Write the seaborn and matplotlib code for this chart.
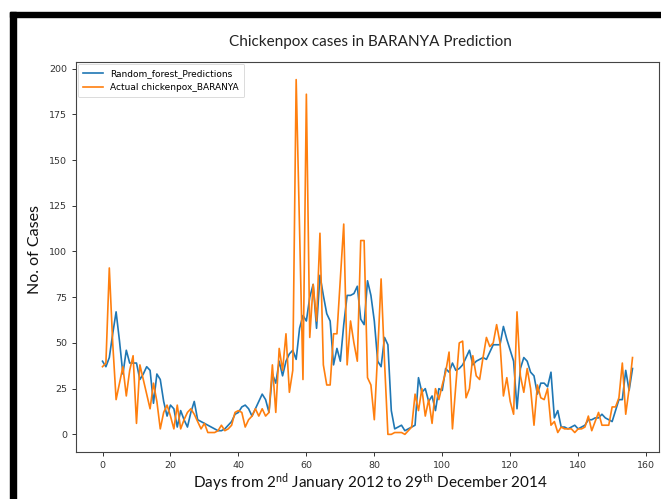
import numpy as np
import pandas as pd
import matplotlib
matplotlib.use("Agg")
import matplotlib.pyplot as plt
from matplotlib.patches import Rectangle
import seaborn as sns

# ---- data ----
actual = [
    37, 39, 91, 50, 19, 28, 37, 21, 35, 43,
    6, 38, 30, 22, 14, 28, 18, 3, 12, 16,
    10, 3, 16, 3, 8, 12, 14, 11, 7, 3,
    6, 1, 1, 1, 2, 5, 2, 3, 5, 12,
    13, 12, 4, 8, 10, 14, 10, 14, 10, 12,
    38, 12, 47, 35, 55, 23, 35, 194, 112, 30,
    186, 53, 82, 62, 110, 38, 27, 27, 55, 55,
    85, 115, 38, 62, 50, 40, 106, 106, 31, 27,
    8, 45, 85, 40, 0, 0, 1, 1, 1, 0,
    2, 4, 22, 13, 25, 10, 19, 6, 25, 19,
    27, 34, 45, 3, 27, 50, 51, 20, 25, 43,
    32, 30, 42, 53, 48, 50, 60, 50, 21, 31,
    18, 11, 67, 32, 23, 36, 25, 5, 27, 20,
    19, 25, 5, 7, 1, 4, 3, 3, 3, 1,
    3, 3, 4, 10, 2, 7, 12, 5, 5, 5,
    15, 15, 20, 39, 11, 25, 42,
]
predicted = [
    40, 37, 42, 55, 67, 51, 33, 46, 39, 39,
    39, 30, 33, 37, 35, 17, 33, 30, 18, 10,
    16, 14, 4, 13, 8, 4, 12, 18, 8, 7,
    6, 5, 4, 3, 2, 2, 3, 5, 7, 11,
    12, 15, 16, 14, 10, 14, 18, 22, 19, 12,
    33, 28, 40, 32, 40, 44, 46, 41, 58, 65,
    62, 75, 82, 58, 87, 76, 66, 62, 38, 47,
    40, 60, 76, 76, 77, 81, 63, 60, 84, 76,
    62, 40, 37, 53, 49, 13, 3, 4, 5, 2,
    3, 4, 5, 31, 23, 25, 18, 21, 13, 25,
    24, 36, 34, 39, 35, 36, 38, 42, 46, 38,
    40, 41, 42, 41, 45, 49, 49, 49, 59, 52,
    46, 40, 14, 36, 42, 40, 34, 32, 22, 28,
    28, 26, 34, 9, 13, 4, 4, 3, 4, 5,
    3, 4, 5, 8, 8, 9, 9, 11, 9, 8,
    7, 13, 19, 19, 35, 24, 36,
]
days = list(range(len(actual)))
series_names = ["Random_forest_Predictions", "Actual chickenpox_BARANYA"]

title_text = "Chickenpox cases in BARANYA Prediction"
ylabel_text = "No. of Cases"
xlabel_text = r"Days from 2$^{\mathrm{nd}}$ January 2012 to 29$^{\mathrm{th}}$ December 2014"

# ---- style ----
plt.rcParams["mathtext.fontset"] = "custom"
plt.rcParams["mathtext.rm"] = "Lato"
plt.rcParams["mathtext.it"] = "Lato:italic"
plt.rcParams["mathtext.bf"] = "Lato:bold"

fig = plt.figure(figsize=(6.61, 4.99), dpi=100)
ax = fig.add_axes([0.115, 0.094, 0.882, 0.782])

sns.lineplot(x=days, y=predicted, color="#1f77b4", linewidth=1.2,
             label=series_names[0], ax=ax)
sns.lineplot(x=days, y=actual, color="#ff7f0e", linewidth=1.2,
             label=series_names[1], ax=ax)

ax.set_xticks(range(0, 161, 20))
ax.set_yticks(range(0, 201, 25))
ax.tick_params(labelsize=6.8, length=3, width=0.7, colors="#333333")
for s in ax.spines.values():
    s.set_linewidth(0.8)
    s.set_color("#444444")

leg = ax.legend(loc="upper left", fontsize=6.5, frameon=True, borderpad=0.6,
                handlelength=2.2, labelspacing=0.55, borderaxespad=0.2)
leg.get_frame().set_linewidth(0.6)

ax.set_xlabel("")
ax.set_ylabel("")
fig.text(0.56, 0.915, title_text, ha="center", va="center",
         fontsize=11, family="Lato", color="#222222")
fig.text(0.053, 0.50, ylabel_text, ha="center", va="center", rotation=90,
         fontsize=11.5, family="Lato", color="#111111")
fig.text(0.56, 0.032, xlabel_text, ha="center", va="center",
         fontsize=11, family="Lato", color="#111111")

# black frame (top and left bars as in the reference)
fig.add_artist(Rectangle((10 / 661, 1 - 17 / 499), 1, 5 / 499,
                         transform=fig.transFigure, color="black", zorder=10))
fig.add_artist(Rectangle((10 / 661, 0), 6 / 661, 1 - 12 / 499,
                         transform=fig.transFigure, color="black", zorder=10))

fig.savefig("out.png", dpi=100)
